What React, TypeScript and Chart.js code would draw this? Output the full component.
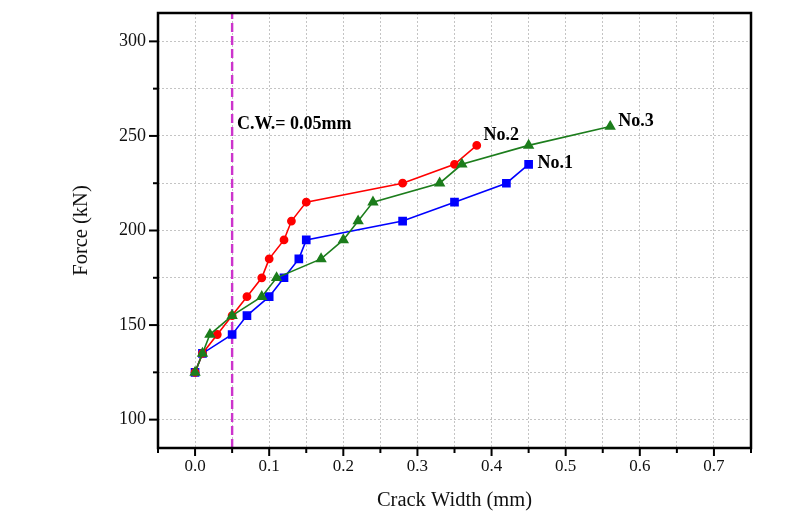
import React, { useEffect, useRef } from 'react';
import { Chart, registerables } from 'chart.js';

Chart.register(...registerables);

// Crack width (mm) and force (kN) for each specimen
const no1Width = [0, 0.01, 0.05, 0.07, 0.1, 0.12, 0.14, 0.15, 0.28, 0.35, 0.42, 0.45];
const no1Force = [125, 135, 145, 155, 165, 175, 185, 195, 205, 215, 225, 235];
const no2Width = [0, 0.01, 0.03, 0.05, 0.07, 0.09, 0.1, 0.12, 0.13, 0.15, 0.28, 0.35, 0.38];
const no2Force = [125, 135, 145, 155, 165, 175, 185, 195, 205, 215, 225, 235, 245];
const no3Width = [0, 0.01, 0.02, 0.05, 0.09, 0.11, 0.17, 0.2, 0.22, 0.24, 0.33, 0.36, 0.45, 0.56];
const no3Force = [125, 135, 145, 155, 165, 175, 185, 195, 205, 215, 225, 235, 245, 255];

// Limit crack width line
const limitWidth = 0.05;

// Axis ranges
const xMin = -0.05;
const xMax = 0.75;
const xStep = 0.05;
const yMin = 85;
const yMax = 315;
const yStep = 25;

// Annotation texts and their anchor positions in data units
const noteTexts = ['C.W.= 0.05mm', 'No.2', 'No.1', 'No.3'];
const noteX = [0.0565, 0.389, 0.462, 0.571];
const noteY = [253.6, 247.8, 233, 255.1];

const SERIF = '"Liberation Serif", "Times New Roman", serif';

const toPoints = (xs: number[], ys: number[]) => xs.map((x, i) => ({ x, y: ys[i] }));

const framePlugin = {
  id: 'frameTicksNotes',
  afterDraw(chart: any) {
    const { ctx, chartArea: a, scales } = chart;
    const x = scales.x;
    const y = scales.y;
    ctx.save();
    ctx.strokeStyle = '#000';
    ctx.lineWidth = 2;
    ctx.setLineDash([]);
    x.ticks.forEach((t: any) => {
      const v = t.value;
      const px = x.getPixelForValue(v);
      const major = Math.abs(Math.round(v * 100)) % 10 === 0;
      const len = major ? 8 : 5;
      ctx.beginPath();
      ctx.moveTo(px, a.bottom);
      ctx.lineTo(px, a.bottom + len);
      ctx.stroke();
    });
    y.ticks.forEach((t: any) => {
      const v = t.value;
      if (v <= yMin || v >= yMax) return;
      const py = y.getPixelForValue(v);
      const major = Math.round(v) % 50 === 0;
      const len = major ? 9 : 5;
      ctx.beginPath();
      ctx.moveTo(a.left - len, py);
      ctx.lineTo(a.left, py);
      ctx.stroke();
    });
    ctx.lineWidth = 2.5;
    ctx.strokeRect(a.left, a.top, a.right - a.left, a.bottom - a.top);

    ctx.fillStyle = '#000';
    ctx.font = `bold 18px ${SERIF}`;
    ctx.textAlign = 'left';
    ctx.textBaseline = 'alphabetic';
    noteTexts.forEach((txt, i) => {
      ctx.fillText(txt, x.getPixelForValue(noteX[i]), y.getPixelForValue(noteY[i]));
    });
    ctx.restore();
  },
};

export default function App() {
  const canvasRef = useRef<HTMLCanvasElement | null>(null);

  useEffect(() => {
    document.body.style.margin = '0';
    const canvas = canvasRef.current;
    if (!canvas) return;
    const chart = new Chart(canvas, {
      type: 'scatter',
      data: {
        datasets: [
          {
            label: 'No.3',
            data: toPoints(no3Width, no3Force),
            showLine: true,
            borderColor: '#1c7d1c',
            backgroundColor: '#1c7d1c',
            borderWidth: 1.6,
            pointStyle: 'triangle',
            pointRadius: 5,
            order: 0,
          },
          {
            label: 'No.2',
            data: toPoints(no2Width, no2Force),
            showLine: true,
            borderColor: '#ff0000',
            backgroundColor: '#ff0000',
            borderWidth: 1.6,
            pointStyle: 'circle',
            pointRadius: 3.6,
            order: 1,
          },
          {
            label: 'No.1',
            data: toPoints(no1Width, no1Force),
            showLine: true,
            borderColor: '#0000ff',
            backgroundColor: '#0000ff',
            borderWidth: 1.6,
            pointStyle: 'rect',
            pointRadius: 5,
            order: 2,
          },
          {
            label: 'C.W.',
            data: [
              { x: limitWidth, y: yMin },
              { x: limitWidth, y: yMax },
            ],
            showLine: true,
            borderColor: '#cc33cc',
            borderWidth: 2.4,
            borderDash: [9, 4],
            pointRadius: 0,
            order: 3,
          },
        ],
      },
      options: {
        animation: false,
        responsive: true,
        maintainAspectRatio: false,
        devicePixelRatio: 1,
        layout: { padding: { left: 0, right: 54, top: 13, bottom: 0 } },
        plugins: {
          legend: { display: false },
          tooltip: { enabled: false },
        },
        scales: {
          x: {
            type: 'linear',
            min: xMin,
            max: xMax,
            border: { display: false, dash: [2, 2] },
            grid: {
              color: '#c4c4c4',
              lineWidth: 1,
              drawTicks: false,
            },
            ticks: {
              stepSize: xStep,
              autoSkip: false,
              maxRotation: 0,
              padding: 8,
              color: '#111',
              font: { family: SERIF, size: 17 },
              callback: (val: any) => {
                const v = Number(val);
                const hund = Math.round(v * 100);
                if (hund < 0 || hund > 70 || hund % 10 !== 0) return '';
                return (hund / 100).toFixed(1);
              },
            },
            title: {
              display: true,
              text: 'Crack Width (mm)',
              color: '#111',
              font: { family: SERIF, size: 20.5 },
              padding: { top: 0, bottom: 13 },
            },
            afterFit: (scale: any) => {
              scale.height = 78;
              scale.paddingLeft = 0;
              scale.paddingRight = 0;
            },
          },
          y: {
            type: 'linear',
            min: yMin,
            max: yMax,
            border: { display: false, dash: [2, 2] },
            grid: {
              color: '#c4c4c4',
              lineWidth: 1,
              drawTicks: false,
            },
            ticks: {
              stepSize: yStep,
              autoSkip: false,
              padding: 12,
              color: '#111',
              font: { family: SERIF, size: 18 },
              callback: (val: any) => {
                const v = Math.round(Number(val));
                if (v % 50 !== 0 || v <= yMin || v >= yMax) return '';
                return String(v);
              },
            },
            title: {
              display: true,
              text: 'Force (kN)',
              color: '#111',
              font: { family: SERIF, size: 20.5 },
              padding: { top: 69, bottom: 0 },
            },
            afterFit: (scale: any) => {
              scale.width = 158;
              scale.paddingTop = 0;
              scale.paddingBottom = 0;
            },
          },
        },
      },
      plugins: [framePlugin],
    } as any);
    return () => chart.destroy();
  }, []);

  return (
    <div style={{ width: '805px', height: '526px', position: 'relative', background: '#fff' }}>
      <canvas ref={canvasRef} />
    </div>
  );
}
